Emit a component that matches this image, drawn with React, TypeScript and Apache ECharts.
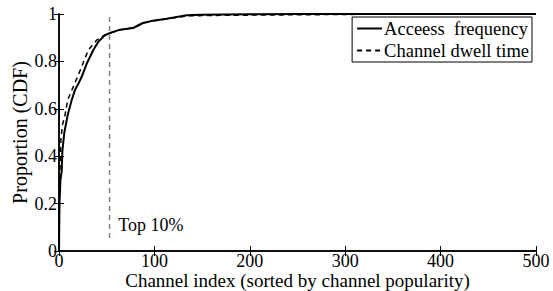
import React, { useEffect, useRef } from "react";
import * as echarts from "echarts";

const accessX = [0, 0.5, 1.5, 2.8, 3.5, 5.6, 9.1, 13.3, 16.8, 19.6, 23.8, 29, 36, 41.2, 48.2, 53.5, 64, 77.6, 88, 98.5, 112.9, 133.9, 148, 200, 250, 500];
const accessY = [0, 0.2, 0.3, 0.335, 0.42, 0.5, 0.574, 0.637, 0.68, 0.7, 0.735, 0.79, 0.848, 0.883, 0.911, 0.92, 0.934, 0.941, 0.962, 0.972, 0.98, 0.9945, 0.997, 0.999, 1, 1];

const dwellX = [0, 0.3, 1, 2, 3.5, 6.3, 9.1, 15, 22, 30.7, 39.5, 46, 53.5, 64, 77.6, 88, 98.5, 112.9, 133.9, 160, 225, 300, 350, 500];
const dwellY = [0, 0.215, 0.34, 0.47, 0.53, 0.574, 0.637, 0.693, 0.76, 0.848, 0.89, 0.907, 0.92, 0.933, 0.942, 0.961, 0.971, 0.979, 0.992, 0.994, 0.996, 0.998, 1, 1];

const cutoffX = 53;
const cutoffY = [0.055, 1];

const xTicks = [0, 100, 200, 300, 400, 500];
const yTicks = [0, 0.2, 0.4, 0.6, 0.8, 1];

const seriesNames = ["Acceess  frequency", "Channel dwell time"];
const annotation = "Top 10%";
const annotationAt = [62, 0.11];

const FONT = "Liberation Serif";

export default function App() {
  const ref = useRef<HTMLDivElement>(null);
  useEffect(() => {
    if (!ref.current) return;
    const chart = echarts.init(ref.current, undefined, { renderer: "svg" });
    const pair = (xs: number[], ys: number[]) => xs.map((x, i) => [x, ys[i]]);
    const axisLine = { show: true, lineStyle: { color: "#000", width: 1.5 } };
    const axisTick = { show: true, inside: true, length: 5, lineStyle: { color: "#000", width: 1 } };
    chart.setOption({
      animation: false,
      backgroundColor: "#fff",
      grid: { left: 59, right: 17, top: 14, bottom: 40, containLabel: false, outerBoundsMode: "none" },
      legend: {
        data: seriesNames,
        orient: "vertical",
        right: 21,
        top: 17,
        backgroundColor: "#fff",
        borderColor: "#000",
        borderWidth: 1,
        borderRadius: 0,
        padding: [2, 3, 2, 4],
        itemWidth: 25,
        itemHeight: 10,
        itemGap: 3,
        itemStyle: { opacity: 0 },
        textStyle: { fontFamily: FONT, fontSize: 18.5, color: "#000", lineHeight: 18, padding: [0, 0, 0, -3] },
        selectedMode: false,
      },
      xAxis: [
        {
          type: "value", min: 0, max: 500, interval: 100, position: "bottom",
          axisLine, axisTick, splitLine: { show: false },
          axisLabel: { fontFamily: FONT, fontSize: 18, color: "#000", margin: 1 },
          name: "Channel index (sorted by channel popularity)",
          nameLocation: "middle", nameGap: 20, nameMoveOverlap: false,
          nameTextStyle: { fontFamily: FONT, fontSize: 19, color: "#000" },
        },
        {
          type: "value", min: 0, max: 500, interval: 100, position: "top",
          axisLine, axisTick, splitLine: { show: false }, axisLabel: { show: false },
        },
      ],
      yAxis: [
        {
          type: "value", min: 0, max: 1, interval: 0.2, position: "left",
          axisLine, axisTick, splitLine: { show: false },
          axisLabel: { fontFamily: FONT, fontSize: 18, color: "#000", margin: 2, formatter: (v: number) => (yTicks.includes(+v.toFixed(1)) ? String(+v.toFixed(1)) : "") },
          name: "Proportion (CDF)",
          nameLocation: "middle", nameGap: 29, nameMoveOverlap: false,
          nameTextStyle: { fontFamily: FONT, fontSize: 20, color: "#000" },
        },
        {
          type: "value", min: 0, max: 1, interval: 0.2, position: "right",
          axisLine, axisTick, splitLine: { show: false }, axisLabel: { show: false },
        },
      ],
      series: [
        {
          name: "cutoff",
          type: "line",
          data: cutoffY.map((y) => [cutoffX, y]),
          symbol: "none",
          lineStyle: { color: "#808080", width: 1.5, type: [5, 4] },
          silent: true,
          z: 1,
        },
        {
          name: seriesNames[0],
          type: "line",
          data: pair(accessX, accessY),
          symbol: "none",
          showSymbol: false,
          lineStyle: { color: "#000", width: 2, type: "solid" },
          itemStyle: { color: "#000" },
          z: 3,
        },
        {
          name: seriesNames[1],
          type: "line",
          data: pair(dwellX, dwellY),
          symbol: "none",
          showSymbol: false,
          lineStyle: { color: "#000", width: 1.5, type: [5, 4] },
          itemStyle: { color: "#000" },
          z: 2,
        },
      ],
    });
    const p = chart.convertToPixel({ gridIndex: 0 }, annotationAt) as number[];
    chart.setOption({
      graphic: [
        {
          type: "text",
          x: p[0],
          y: p[1],
          style: { text: annotation, fontFamily: FONT, fontSize: 18, fill: "#000", verticalAlign: "middle", align: "left" },
        },
      ],
    });
    return () => chart.dispose();
  }, []);
  return <div ref={ref} style={{ position: "fixed", left: 0, top: 0, width: 553, height: 291, background: "#fff" }} />;
}
